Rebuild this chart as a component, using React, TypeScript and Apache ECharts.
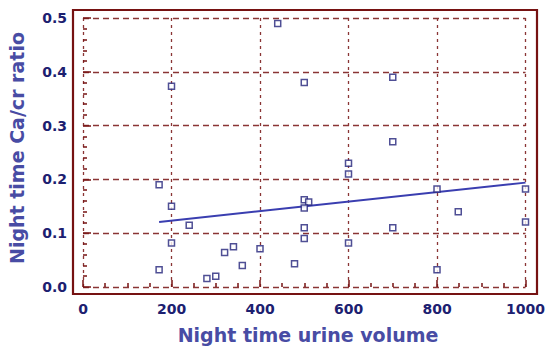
import React, { useEffect, useRef } from "react";
import * as echarts from "echarts";

const xTicks = [0, 200, 400, 600, 800, 1000];
const yTicks = [0.0, 0.1, 0.2, 0.3, 0.4, 0.5];

const urineVolume = [
  200, 440, 500, 700, 700, 600, 600, 172, 200, 240, 200, 172, 320, 340, 360,
  280, 300, 400, 500, 510, 500, 500, 500, 478, 600, 700, 800, 800, 848, 1000, 1000,
];
const caCrRatio = [
  0.373, 0.49, 0.38, 0.39, 0.27, 0.23, 0.21, 0.19, 0.15, 0.115, 0.082, 0.032, 0.064, 0.075, 0.04,
  0.016, 0.02, 0.071, 0.162, 0.158, 0.147, 0.11, 0.09, 0.043, 0.082, 0.11, 0.182, 0.032, 0.14, 0.182, 0.121,
];

const fitX = [172, 1000];
const fitY = [0.121, 0.194];

const xTitle = "Night time urine volume";
const yTitle = "Night time Ca/cr ratio";

export default function App() {
  const ref = useRef<HTMLDivElement>(null);
  useEffect(() => {
    if (!ref.current) return;
    const chart = echarts.init(ref.current, null, { renderer: "svg" });
    const labelStyle = {
      color: "#1c2070",
      fontFamily: "DejaVu Sans",
      fontWeight: "bold" as const,
      fontSize: 14,
    };
    const gridLine = {
      show: true,
      lineStyle: { color: "#8a3535", type: [6, 4] as any, width: 1.3 },
    };
    chart.setOption({
      animation: false,
      backgroundColor: "#ffffff",
      grid: [
        { left: 73, right: 11, top: 10, bottom: 53, show: true, borderColor: "#761212", borderWidth: 2.2, backgroundColor: "transparent" },
        { left: 83, right: 18, top: 18, bottom: 60 },
      ],
      xAxis: [
        { gridIndex: 0, type: "value", min: 0, max: 1, show: false },
        {
          gridIndex: 1,
          type: "value",
          min: 0,
          max: 1000,
          interval: 200,
          offset: 7,
          axisLine: { show: false },
          axisTick: { show: true, inside: true, length: 7, lineStyle: { color: "#761212", width: 1.5 } },
          minorTick: { show: true, splitNumber: 4, length: 4, lineStyle: { color: "#761212", width: 1.5 } },
          axisLabel: { ...labelStyle, margin: 8, formatter: (v: number) => (xTicks.includes(v) ? String(v) : "") },
          splitLine: { ...gridLine, lineStyle: { ...gridLine.lineStyle, type: [3, 4] as any } },
        },
      ],
      yAxis: [
        { gridIndex: 0, type: "value", min: 0, max: 1, show: false },
        {
          gridIndex: 1,
          type: "value",
          min: 0,
          max: 0.5,
          interval: 0.1,
          offset: 10,
          axisLine: { show: false },
          axisTick: { show: true, inside: true, length: 8, lineStyle: { color: "#761212", width: 1.5 } },
          minorTick: { show: true, splitNumber: 5, length: 4, lineStyle: { color: "#761212", width: 1.5 } },
          axisLabel: {
            ...labelStyle,
            margin: 6,
            formatter: (v: number) => {
              const t = yTicks.find((y) => Math.abs(y - v) < 1e-9);
              return t === undefined ? "" : t.toFixed(1);
            },
          },
          splitLine: gridLine,
        },
      ],
      graphic: [
        {
          type: "text",
          x: 308,
          y: 335,
          style: {
            text: xTitle,
            fill: "#484ca4",
            font: "bold 19px 'DejaVu Sans'",
            textAlign: "center",
            textVerticalAlign: "middle",
          },
        },
        {
          type: "text",
          x: 17,
          y: 148,
          rotation: Math.PI / 2,
          style: {
            text: yTitle,
            fill: "#484ca4",
            font: "bold 19px 'DejaVu Sans'",
            textAlign: "center",
            textVerticalAlign: "middle",
          },
        },
      ],
      series: [
        {
          type: "scatter",
          xAxisIndex: 1,
          yAxisIndex: 1,
          symbol: "rect",
          symbolSize: 6,
          itemStyle: { color: "#ffffff", borderColor: "#23237a", borderWidth: 1.5 },
          data: urineVolume.map((x, i) => [x, caCrRatio[i]]),
          z: 5,
        },
        {
          type: "line",
          xAxisIndex: 1,
          yAxisIndex: 1,
          showSymbol: false,
          symbol: "none",
          lineStyle: { color: "#3a3eb0", width: 2 },
          data: fitX.map((x, i) => [x, fitY[i]]),
          z: 4,
        },
      ],
    });
    return () => chart.dispose();
  }, []);
  return <div ref={ref} style={{ width: 548, height: 347, position: "absolute", left: 0, top: 0 }} />;
}
